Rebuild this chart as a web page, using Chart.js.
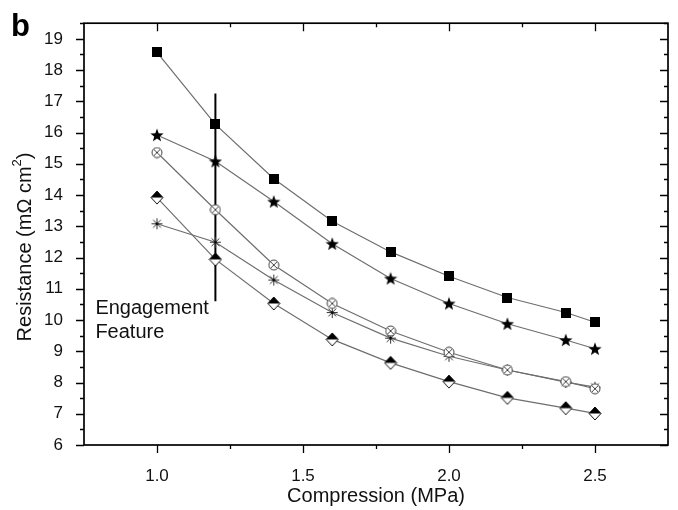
<!DOCTYPE html>
<html><head><meta charset="utf-8">
<script src="https://cdn.jsdelivr.net/npm/chart.js@4"></script>
<style>html,body{margin:0;padding:0;background:#fff;}#wrap{width:678px;height:510px;position:relative;}</style>
</head><body><div id="wrap"><canvas id="c" width="678" height="510"></canvas></div>
<script>
// ---- data ----
const compression = [1.0, 1.2, 1.4, 1.6, 1.8, 2.0, 2.2, 2.4, 2.5];
const squareSeries = [18.57, 16.26, 14.52, 13.16, 12.18, 11.40, 10.72, 10.24, 9.93];
const starSeries = [15.92, 15.08, 13.79, 12.44, 11.33, 10.53, 9.88, 9.36, 9.08];
const circleSeries = [15.36, 13.53, 11.76, 10.53, 9.65, 8.97, 8.40, 8.03, 7.80];
const asteriskSeries = [13.08, 12.49, 11.28, 10.24, 9.42, 8.84, 8.40, 8.01, 7.85];
const diamondSeries = [13.92, 11.94, 10.53, 9.38, 8.63, 8.03, 7.51, 7.18, 7.01];
const engagementX = [1.2, 1.2];
const engagementY = [17.25, 10.6];
const xTickValues = [1.0, 1.5, 2.0, 2.5];
const xTickLabels = ['1.0', '1.5', '2.0', '2.5'];
const xMinorValues = [1.25, 1.75, 2.25];
const yTickValues = [6, 7, 8, 9, 10, 11, 12, 13, 14, 15, 16, 17, 18, 19];
const yTickLabels = ['6', '7', '8', '9', '10', '11', '12', '13', '14', '15', '16', '17', '18', '19'];
const yMinorValues = [6.5, 7.5, 8.5, 9.5, 10.5, 11.5, 12.5, 13.5, 14.5, 15.5, 16.5, 17.5, 18.5, 19.5];
const xTitle = 'Compression (MPa)';
const yTitleMain = 'Resistance (m\u03A9 cm';
const yTitleSup = '2';
const yTitleEnd = ')';
const panelLabel = 'b';
const noteLines = ['Engagement', 'Feature'];

const FONT = '"Liberation Sans", Arial, sans-serif';

// ---- marker images ----
function mk(w, h, fn) { const c = document.createElement('canvas'); c.width = w; c.height = h; fn(c.getContext('2d'), w / 2, h / 2); return c; }
const squareImg = mk(10, 10, (g) => { g.fillStyle = '#000'; g.fillRect(0, 0, 10, 10); });
const starImg = mk(14, 14, (g, cx, cy) => {
  g.beginPath();
  for (let i = 0; i < 10; i++) {
    const r = i % 2 === 0 ? 7 : 2.9;
    const a = -Math.PI / 2 + i * Math.PI / 5;
    const px = cx + r * Math.cos(a), py = cy + 0.6 + r * Math.sin(a);
    i ? g.lineTo(px, py) : g.moveTo(px, py);
  }
  g.closePath(); g.fillStyle = '#000'; g.fill();
});
const circleImg = mk(12, 12, (g, cx, cy) => {
  g.beginPath(); g.arc(cx, cy, 5, 0, Math.PI * 2); g.fillStyle = '#fff'; g.fill();
  g.lineWidth = 1; g.strokeStyle = '#444'; g.stroke();
  g.beginPath(); const d = 3.2;
  g.moveTo(cx - d, cy - d); g.lineTo(cx + d, cy + d); g.moveTo(cx + d, cy - d); g.lineTo(cx - d, cy + d);
  g.stroke();
});
const asteriskImg = mk(13, 13, (g, cx, cy) => {
  g.lineWidth = 1; g.strokeStyle = '#333'; g.beginPath();
  for (let i = 0; i < 4; i++) {
    const a = i * Math.PI / 4, r = 5.5;
    g.moveTo(cx - r * Math.cos(a), cy - r * Math.sin(a)); g.lineTo(cx + r * Math.cos(a), cy + r * Math.sin(a));
  }
  g.stroke();
  g.fillStyle = '#000'; g.fillRect(cx - 1, cy - 1, 2, 2);
});
const diamondImg = mk(14, 15, (g, cx, cy) => {
  const hw = 6, hh = 6.5;
  g.beginPath(); g.moveTo(cx, cy - hh); g.lineTo(cx + hw, cy); g.lineTo(cx, cy + hh); g.lineTo(cx - hw, cy); g.closePath();
  g.fillStyle = '#fff'; g.fill();
  g.lineWidth = 1; g.strokeStyle = '#111'; g.stroke();
  g.beginPath(); g.moveTo(cx, cy - hh); g.lineTo(cx + hw, cy); g.lineTo(cx - hw, cy); g.closePath();
  g.fillStyle = '#000'; g.fill();
});

function pts(xs, ys) { return xs.map((x, i) => ({ x: x, y: ys[i] })); }
function series(label, ys, img) {
  return { label: label, data: pts(compression, ys), showLine: true, borderColor: '#6e6e6e', borderWidth: 1.2,
    pointStyle: img, pointRadius: 6, pointHoverRadius: 6, backgroundColor: '#000' };
}

const decor = {
  id: 'decor',
  afterDraw(chart) {
    const { ctx, chartArea: a, scales: { x, y } } = chart;
    ctx.save();
    ctx.strokeStyle = '#000'; ctx.lineWidth = 1.3;
    ctx.beginPath();
    xTickValues.forEach(v => { const p = Math.round(x.getPixelForValue(v)) + 0.5;
      ctx.moveTo(p, a.bottom); ctx.lineTo(p, a.bottom + 8); ctx.moveTo(p, a.top); ctx.lineTo(p, a.top + 8); });
    xMinorValues.forEach(v => { const p = Math.round(x.getPixelForValue(v)) + 0.5;
      ctx.moveTo(p, a.bottom); ctx.lineTo(p, a.bottom + 4); ctx.moveTo(p, a.top); ctx.lineTo(p, a.top + 4); });
    yTickValues.forEach(v => { const p = Math.round(y.getPixelForValue(v)) + 0.5;
      ctx.moveTo(a.left, p); ctx.lineTo(a.left - 8, p); ctx.moveTo(a.right, p); ctx.lineTo(a.right - 8, p); });
    yMinorValues.forEach(v => { const p = Math.round(y.getPixelForValue(v)) + 0.5;
      ctx.moveTo(a.left, p); ctx.lineTo(a.left - 4, p); ctx.moveTo(a.right, p); ctx.lineTo(a.right - 4, p); });
    ctx.stroke();
    ctx.lineWidth = 1.7;
    ctx.strokeRect(a.left, a.top, a.right - a.left, a.bottom - a.top);

    // panel label
    ctx.fillStyle = '#000';
    ctx.font = 'bold 31px ' + FONT; ctx.textAlign = 'left'; ctx.textBaseline = 'alphabetic';
    ctx.fillText(panelLabel, 11, 36);

    // annotation text
    ctx.font = '20px ' + FONT; ctx.fillStyle = '#111';
    const tx = x.getPixelForValue(0.789);
    ctx.fillText(noteLines[0], tx, y.getPixelForValue(10.18));
    ctx.fillText(noteLines[1], tx, y.getPixelForValue(9.42));

    // y-axis title with superscript
    const cx = 25, cy = 247;
    ctx.translate(cx, cy); ctx.rotate(-Math.PI / 2);
    ctx.font = '20px ' + FONT; const w1 = ctx.measureText(yTitleMain).width;
    ctx.font = '13px ' + FONT; const w2 = ctx.measureText(yTitleSup).width;
    ctx.font = '20px ' + FONT; const w3 = ctx.measureText(yTitleEnd).width;
    const total = w1 + w2 + w3; let sx = -total / 2;
    ctx.textBaseline = 'middle';
    ctx.fillText(yTitleMain, sx, 0); sx += w1;
    ctx.font = '13px ' + FONT; ctx.fillText(yTitleSup, sx, -8); sx += w2;
    ctx.font = '20px ' + FONT; ctx.fillText(yTitleEnd, sx, 0);
    ctx.restore();
  }
};

new Chart(document.getElementById('c'), {
  type: 'scatter',
  data: {
    datasets: [
      series('Square', squareSeries, squareImg),
      series('Star', starSeries, starImg),
      series('Circle', circleSeries, circleImg),
      series('Asterisk', asteriskSeries, asteriskImg),
      series('Diamond', diamondSeries, diamondImg),
      { label: 'Engagement Feature', data: pts(engagementX, engagementY), showLine: true, borderColor: '#000', borderWidth: 2, pointRadius: 0 }
    ]
  },
  options: {
    responsive: false, animation: false, devicePixelRatio: 1,
    layout: { padding: { top: 13, right: 10, left: 0, bottom: 0 } },
    plugins: { legend: { display: false }, tooltip: { enabled: false } },
    scales: {
      x: {
        type: 'linear', min: 0.75, max: 2.75,
        afterBuildTicks: s => { s.ticks = xTickValues.map(v => ({ value: v })); },
        afterFit: s => { s.height = 65; },
        ticks: { padding: 13, color: '#111', font: { family: FONT, size: 17 },
          callback: (v) => { const i = xTickValues.findIndex(t => Math.abs(t - v) < 1e-6); return i >= 0 ? xTickLabels[i] : ''; } },
        grid: { display: false }, border: { display: false },
        title: { display: true, text: xTitle, color: '#111', font: { family: FONT, size: 20 }, padding: { top: 0, bottom: 2 } }
      },
      y: {
        type: 'linear', min: 6, max: 19.5,
        afterBuildTicks: s => { s.ticks = yTickValues.map(v => ({ value: v })); },
        afterFit: s => { s.width = 84; },
        ticks: { padding: 13, color: '#111', font: { family: FONT, size: 17 },
          callback: (v) => { const i = yTickValues.indexOf(v); return i >= 0 ? yTickLabels[i] : ''; } },
        grid: { display: false }, border: { display: false }
      }
    }
  },
  plugins: [decor]
});
</script></body></html>
